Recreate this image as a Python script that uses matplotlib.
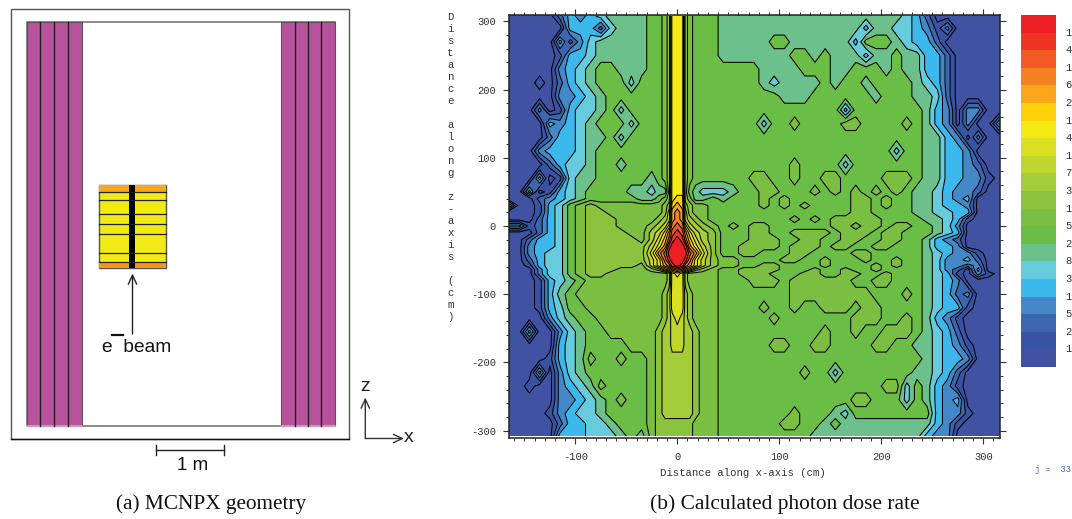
import numpy as np
import matplotlib
matplotlib.use('Agg')
import matplotlib.pyplot as plt
from matplotlib.patches import Rectangle

W, H = 1072, 519
plt.rcParams['axes.unicode_minus'] = False

# Band colours, lowest dose first
band_colors = ['#4252a3', '#3953a4', '#3d66b0', '#4488c7', '#3db8ec', '#66cbdc', '#6cc08b',
               '#6abd45', '#7abf42', '#8bc33f', '#a5cc39', '#bfd62e', '#d9df21', '#f5ea14',
               '#ffd10a', '#faa61a', '#f58220', '#f15a22', '#ef3424', '#ee2024']
bar_labels = ['1', '4', '1', '6', '2', '1', '4', '1', '7', '3', '1', '5', '2', '8', '3', '1', '5', '2', '1']

# Dose grid, one character per cell: 0-9 then a-j = band number
x_cm = [-166, -155, -145, -135, -125, -115, -105, -95, -85, -75, -65, -55, -45, -35,
        -25, -18, -12, -8, -5, 0, 5, 8, 12, 18, 25, 35,
        45, 55, 65, 75, 85, 95, 105, 115, 125, 135, 145, 155, 165, 175, 185, 195, 205, 215,
        225, 235, 245, 255, 265, 275, 285, 295, 305, 317]
z_cm = [308, 290, 270, 250, 230, 210, 190, 170, 150, 130, 110, 90, 70, 50, 40, 30, 20, 10, 0,
        -10, -20, -30, -40, -50, -58, -64, -70, -80, -100, -120, -135, -155, -175, -195,
        -215, -235, -255, -275, -290, -308]
dose_rows = [
    '00000243456666 7789ddd98777 6666666666 66666666 5420000000',
    '00000044425666 7789ddd98777 6666666666 66664665 5431300000',
    '00000413566666 7789ddd98777 6666677666 66647776 5442000000',
    '00000144566666 7789ddd98777 6666666776 76664667 6644200000',
    '00000345677666 7789ddd98777 7777666677 76677767 6644200000',
    '00010245677757 7789ddd98777 7777656666 76776777 7654200000',
    '00000334567777 7789ddd98777 7777776667 77777677 7665200000',
    '00030145567577 7789ddd98777 7777777777 77477777 7764303300',
    '00004345677757 7789ddd98777 7777577877 77887777 8764303004',
    '00002445667577 7789ddd98777 7777777777 77777777 7766430300',
    '00034445677777 7789ddd98777 7777777777 77777775 7766443000',
    '00002455677677 7789ddd98777 7777777877 77577777 7766443200',
    '00040156677777 6789ddd98777 7778877877 88777788 8766443310',
    '00401456777766 5669ddd97655 5677887778 78787878 7665433200',
    '00023456777776 6789dee98667 6777878777 77788787 7665434000',
    '40014578988888 889aefea9887 7777878787 77788787 7665443000',
    '00014578998888 889bfgfb9887 7777777777 77788777 7665544000',
    '00024578999888 89abfgfba987 7777777878 78888877 7766541000',
    '44124578999888 9abdghgdba98 7878877777 78878878 8776530000',
    '00024578999988 abdfhihfdba9 7778877888 87888788 7776540000',
    '00244578999998 acegijigeca9 7778887788 77887788 7764320000',
    '00344578999999 bdfijjjifdb9 7788887888 78877887 7764430000',
    '00345578999999 cfhjjjjjhfc9 7788777887 77788777 7765433100',
    '00245578999999 bdgijjjigdb9 8877778877 87778778 7765334200',
    '00145578999998 bdfgijigfdb9 8877887777 87777878 7765332300',
    '00035578999888 9acdfgfdca98 7788887778 77877877 7765320400',
    '00035578998888 8889cdc98888 7788877788 77887787 7765410310',
    '00014567888888 8889ccc98888 7778887888 88877887 7765430000',
    '00014678888888 889accca9888 7777777888 88888777 8765423000',
    '00014577888888 889accca9888 7777877877 88878877 7765441000',
    '00003567788888 889abcba9888 7777787777 77788877 8764310000',
    '00400356778888 89aabbbaa988 7777777777 87787788 8765420000',
    '00000456777788 89aabbbaa988 7777788778 87777887 7665431000',
    '00001456877877 89aaaaaaa988 7777777777 77777777 7765443000',
    '00040356777777 89aaaaaaa988 7777777787 75777777 7665420000',
    '00100345687777 89aaaaaaa988 7777777777 77777788 5764310000',
    '00000334567877 89aaaaaaa988 7777777777 77788777 5764340000',
    '00001345567777 89aaaaaaa988 7777777877 76577777 7774331000',
    '00000244556777 899999999888 7777778877 67666666 6664310000',
    '00000444555676 899999999888 7777777776 66666666 6643300000',
]

# Geometry panel, picture pixels
left_plates = [26.7, 40.3, 54.3, 68.3, 81.7]
right_plates = [281, 294.7, 307.7, 321.3, 335.3]
target_lines = [192.3, 200.3, 213.7, 224, 234.3, 253.3, 262]

fig = plt.figure(figsize=(W / 100, H / 100), dpi=100)

ov = fig.add_axes([0, 0, 1, 1])
ov.set_xlim(0, W)
ov.set_ylim(H, 0)
ov.axis('off')

# --- (a) geometry ---
ov.add_patch(Rectangle((10.5, 8.7), 338.2, 430.6, fc='white', ec='#555555', lw=1.0))
ov.plot([10.5, 348.7], [439.3, 439.3], color='#111111', lw=1.0)
ov.add_patch(Rectangle((26.7, 22), 308.6, 404, fc='white', ec='#777777', lw=1.2))
for plates in (left_plates, right_plates):
    ov.add_patch(Rectangle((plates[0], 22), plates[-1] - plates[0], 404, fc='#b8529c', ec='#555555', lw=0.8))
    ov.plot([plates[0], plates[-1]], [425.5, 425.5], color='#d9a5cf', lw=1.2)
    for p in plates[1:-1]:
        ov.plot([p, p], [22, 426], color='#222222', lw=1.0)
ov.add_patch(Rectangle((98.7, 184.7), 67.6, 83.6, fc='#f2ea14', ec='#555555', lw=1.0))
ov.add_patch(Rectangle((98.7, 184.7), 67.6, 7.6, fc='#faa61a', ec='none'))
ov.add_patch(Rectangle((98.7, 262), 67.6, 6.3, fc='#f7941e', ec='none'))
for y in target_lines:
    ov.plot([98.7, 166.3], [y, y], color='#222222', lw=0.9)
ov.add_patch(Rectangle((129, 184.7), 6, 83.6, fc='black', ec='none'))


def arrow(x0, y0, x1, y1, col='#222222'):
    ov.annotate('', xy=(x1, y1), xytext=(x0, y0),
                arrowprops=dict(arrowstyle='->,head_length=0.65,head_width=0.3', color=col,
                                lw=1.0, shrinkA=0, shrinkB=0))


arrow(132.5, 334, 132.5, 273.5)
ov.plot([112, 122.5], [334.5, 334.5], color='#111111', lw=1.6)
ov.text(102.5, 352.5, 'e  beam', family='Liberation Sans', fontsize=13.8, color='#111111', va='baseline')
arrow(365.3, 438.5, 365.3, 397.5, '#333333')
arrow(365.3, 438.5, 404, 438.5, '#333333')
ov.text(365, 386.5, 'z', family='Liberation Sans', fontsize=14, ha='center', va='center', color='#222222')
ov.text(409, 437.5, 'x', family='Liberation Sans', fontsize=14, ha='center', va='center', color='#222222')
ov.plot([156, 224], [449.7, 449.7], color='#222222', lw=1.0)
ov.plot([156, 156], [445, 454.5], color='#222222', lw=1.0)
ov.plot([224, 224], [445, 454.5], color='#222222', lw=1.0)
ov.text(192.7, 466, '1 m', family='Liberation Sans', fontsize=13.5, ha='center', va='center', color='#111111')
ov.text(211, 504, '(a) MCNPX geometry', family='Liberation Serif', fontsize=15.3, ha='center', va='center', color='#111111')
ov.text(784.5, 504, '(b) Calculated photon dose rate', family='Liberation Serif', fontsize=15.4, ha='center', va='center', color='#111111')

# --- (b) dose map ---
ax = fig.add_axes([508.5 / W, 1 - 438 / H, (1000 - 508.5) / W, (438 - 15.3) / H])
digits = '0123456789abcdefghij'
Z = np.array([[digits.index(c) + 0.5 for c in ''.join(r.split())] for r in dose_rows])
ax.contourf(x_cm, z_cm, Z, levels=np.arange(21), colors=band_colors)
ax.contour(x_cm, z_cm, Z, levels=np.arange(1, 20), colors='black', linewidths=0.75)
ax.set_xlim(-165.5, 316.4)
ax.set_ylim(-311, 309)
ax.set_xticks([-100, 0, 100, 200, 300])
ax.set_xticks(np.arange(-160, 316, 10), minor=True)
ax.set_yticks([-300, -200, -100, 0, 100, 200, 300])
ax.set_yticks(np.arange(-300, 301, 20), minor=True)
ax.tick_params(which='major', length=4.3, width=0.8, top=True, right=True, direction='out', color='#333333')
ax.tick_params(which='minor', length=2.2, width=0.7, top=True, right=True, direction='out', color='#333333')
ax.tick_params(axis='x', which='major', pad=5.6)
ax.tick_params(axis='y', which='major', pad=4.7)
for lab in ax.get_xticklabels() + ax.get_yticklabels():
    lab.set_family('Liberation Mono')
    lab.set_fontsize(7.6)
    lab.set_color('#333333')
for s in ax.spines.values():
    s.set_linewidth(1.1)
    s.set_color('#222222')

ov.set_zorder(0)
ax.set_zorder(1)
ov.text(743, 473.5, 'Distance along x-axis (cm)', family='Liberation Mono', fontsize=7.7, ha='center', va='center', color='#333333')
for i, ch in enumerate('Distance along z-axis (cm)'):
    ov.text(450.5, 16.7 + 12 * i, ch, family='Liberation Mono', fontsize=7.7, ha='center', va='center', color='#333333')

# colour bar
cb = fig.add_axes([1021 / W, 1 - 367 / H, 35 / W, 352 / H])
cb.bar(0, [1] * 20, bottom=np.arange(20), width=1, color=band_colors)
cb.set_xlim(-0.5, 0.5)
cb.set_ylim(0, 20)
cb.axis('off')
for i, t in enumerate(bar_labels):
    ov.text(1065.5, 32.6 + 17.6 * i, t, family='Liberation Mono', fontsize=7.6, va='center', color='#333333')
ov.text(1035, 470, 'j =  33', family='Liberation Mono', fontsize=6.2, va='center', color='#4a66c0')

fig.savefig('out.png', dpi=100)
